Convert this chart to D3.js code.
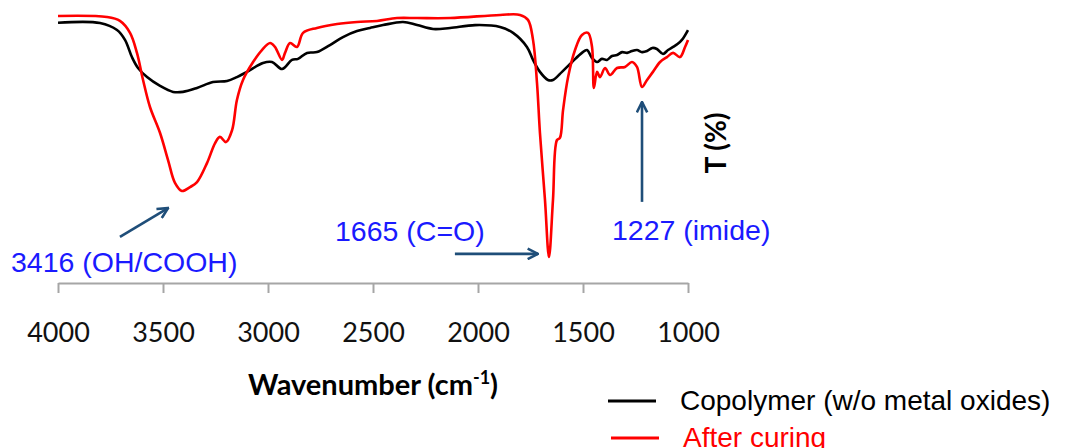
<!DOCTYPE html>
<html>
<head>
<meta charset="utf-8">
<script src="https://cdnjs.cloudflare.com/ajax/libs/d3/7.8.5/d3.min.js"></script>
<style>
  body { margin: 0; background: #fff; }
  svg { display: block; }
</style>
</head>
<body>
<script>
var width = 1065, height = 448;

// wavenumbers (cm-1) and transmittance (arbitrary %)
var copolymerWave = [4000, 3800, 3719, 3681, 3648, 3619, 3576, 3514, 3452, 3405, 3338, 3262, 3195, 3148, 3100,
  3024, 2981, 2933, 2886, 2857, 2814, 2767, 2705, 2643, 2576, 2514, 2452, 2357, 2290, 2214, 2133, 2014, 1895,
  1833, 1767, 1738, 1705, 1667, 1643, 1600, 1552, 1505, 1481, 1457, 1433, 1410, 1386, 1362, 1338, 1314, 1290,
  1267, 1243, 1219, 1195, 1170, 1148, 1119, 1095, 1071, 1050, 1029, 1000];
var copolymerT = [95.1, 95.0, 92.3, 88.5, 81.9, 77.7, 74.2, 70.8, 68.5, 68.5, 70.0, 72.3, 72.7, 74.2, 76.2,
  79.6, 80.0, 77.3, 80.8, 81.2, 83.5, 83.8, 86.5, 89.6, 91.9, 93.1, 94.2, 95.4, 94.2, 92.7, 93.1, 94.2, 93.5,
  91.2, 85.8, 80.8, 76.2, 73.1, 73.1, 76.2, 80.0, 83.5, 84.6, 81.5, 80.0, 81.2, 80.8, 82.3, 82.7, 83.8, 83.5,
  84.2, 84.6, 83.8, 84.2, 85.4, 85.0, 83.1, 84.6, 85.8, 86.9, 88.5, 92.3];

var curedWave = [4000, 3767, 3705, 3657, 3624, 3595, 3562, 3514, 3476, 3443, 3410, 3371, 3338, 3290, 3252,
  3229, 3200, 3171, 3148, 3119, 3071, 3029, 2990, 2967, 2933, 2919, 2895, 2862, 2833, 2767, 2671, 2576, 2481,
  2386, 2290, 2133, 1895, 1800, 1762, 1738, 1719, 1705, 1681, 1662, 1643, 1624, 1610, 1595, 1571, 1538, 1505,
  1476, 1457, 1448, 1433, 1419, 1395, 1371, 1338, 1300, 1267, 1243, 1219, 1195, 1167, 1133, 1100, 1071, 1038,
  1014, 1000];
var curedT = [97.7, 97.3, 95.8, 91.2, 83.5, 73.1, 62.7, 52.7, 42.3, 33.5, 30.4, 31.9, 33.8, 41.2, 48.8,
  51.2, 49.2, 53.8, 65.4, 73.1, 80.0, 84.6, 87.3, 85.8, 80.8, 83.5, 87.3, 85.8, 91.2, 93.1, 94.6, 95.4, 95.8,
  96.9, 96.9, 96.9, 98.1, 98.1, 96.2, 88.5, 71.9, 52.7, 26.9, 5.0, 26.9, 50.0, 50.8, 61.5, 74.2, 84.6, 90.4,
  91.2, 85.8, 70.0, 76.2, 74.2, 77.7, 75.0, 77.7, 78.1, 80.0, 78.1, 70.4, 73.1, 76.2, 80.0, 81.9, 83.5, 81.9,
  85.8, 88.5];

var tickValues = [4000, 3500, 3000, 2500, 2000, 1500, 1000];
var seriesNames = ["Copolymer (w/o metal oxides)", "After curing"];
var seriesColors = ["#000000", "#ff0000"];

// peak labels: text, label position and arrow (tail -> tip), all in data units
var peakLabels = ["3416 (OH/COOH)", "1665 (C=O)", "1227 (imide)"];
var labelWave = [4224, 2681, 1362];
var labelT = [-0.8, 11.2, 11.5];
var arrowFrom = [[3705, 12.7], [2110, 6.2], [1219, 26.2]];
var arrowTo = [[3476, 23.8], [1714, 6.2], [1219, 64.6]];

var x = d3.scaleLinear().domain([4000, 1000]).range([58, 688]);
var y = d3.scaleLinear().domain([0, 100]).range([270, 10]);

var svg = d3.select("body").append("svg")
    .attr("width", width)
    .attr("height", height);

svg.append("defs").append("marker")
    .attr("id", "head")
    .attr("viewBox", "0 0 10 10")
    .attr("refX", 9).attr("refY", 5)
    .attr("markerWidth", 5).attr("markerHeight", 5)
    .attr("orient", "auto")
  .append("path")
    .attr("d", "M1,1 L9,5 L1,9")
    .attr("fill", "none")
    .attr("stroke", "#1f4e79")
    .attr("stroke-width", 2);

// x axis
var axis = svg.append("g")
    .attr("transform", "translate(0,283)")
    .call(d3.axisBottom(x).tickValues(tickValues).tickSize(10).tickSizeOuter(0).tickFormat(d3.format("d")));
axis.select(".domain").attr("stroke", "#a6a6a6").attr("stroke-width", 2);
axis.selectAll(".tick line").attr("stroke", "#a6a6a6").attr("stroke-width", 2);
axis.selectAll(".tick text")
    .attr("y", 59).attr("dy", 0)
    .attr("fill", "#111")
    .style("font-family", "Lato, 'Open Sans', sans-serif")
    .style("font-size", "27px");

// axis titles
var xt = svg.append("text")
    .attr("x", 373).attr("y", 395)
    .attr("text-anchor", "middle")
    .style("font-family", "Lato, sans-serif")
    .style("font-weight", "bold")
    .style("font-size", "29px");
xt.append("tspan").text("Wavenumber (cm");
xt.append("tspan").attr("dy", -11).style("font-size", "18px").text("-1");
xt.append("tspan").attr("dy", 11).text(")");

svg.append("text")
    .attr("transform", "translate(726,143) rotate(-90)")
    .attr("text-anchor", "middle")
    .style("font-family", "Lato, sans-serif")
    .style("font-weight", "bold")
    .style("font-size", "28px")
    .text("T (%)");

// spectra
var line = d3.line()
    .x(function(d) { return x(d[0]); })
    .y(function(d) { return y(d[1]); })
    .curve(d3.curveCatmullRom.alpha(0.5));

var series = [d3.zip(copolymerWave, copolymerT), d3.zip(curedWave, curedT)];
svg.selectAll("path.spectrum")
    .data(series)
  .enter().append("path")
    .attr("class", "spectrum")
    .attr("d", line)
    .attr("fill", "none")
    .attr("stroke", function(d, i) { return seriesColors[i]; })
    .attr("stroke-width", 2.6)
    .attr("stroke-linejoin", "round");

// peak annotations
svg.selectAll("line.arrow")
    .data(arrowFrom)
  .enter().append("line")
    .attr("class", "arrow")
    .attr("x1", function(d) { return x(d[0]); })
    .attr("y1", function(d) { return y(d[1]); })
    .attr("x2", function(d, i) { return x(arrowTo[i][0]); })
    .attr("y2", function(d, i) { return y(arrowTo[i][1]); })
    .attr("stroke", "#1f4e79")
    .attr("stroke-width", 2.6)
    .attr("marker-end", "url(#head)");

svg.selectAll("text.peak")
    .data(peakLabels)
  .enter().append("text")
    .attr("class", "peak")
    .attr("x", function(d, i) { return x(labelWave[i]); })
    .attr("y", function(d, i) { return y(labelT[i]); })
    .attr("fill", "#1a1aff")
    .style("font-family", "'Liberation Sans', Arial, sans-serif")
    .style("font-size", "28.5px")
    .text(function(d) { return d; });

// legend
var legend = svg.selectAll("g.legend")
    .data(seriesNames)
  .enter().append("g")
    .attr("class", "legend")
    .attr("transform", function(d, i) { return "translate(" + (608 + i * 3) + "," + (401 + i * 37) + ")"; });
legend.append("line")
    .attr("x1", 0).attr("x2", 48)
    .attr("stroke", function(d, i) { return seriesColors[i]; })
    .attr("stroke-width", 3);
legend.append("text")
    .attr("x", 72).attr("y", 9)
    .attr("fill", function(d, i) { return seriesColors[i]; })
    .style("font-family", "'Liberation Sans', Arial, sans-serif")
    .style("font-size", "28px")
    .text(function(d) { return d; });
</script>
</body>
</html>
